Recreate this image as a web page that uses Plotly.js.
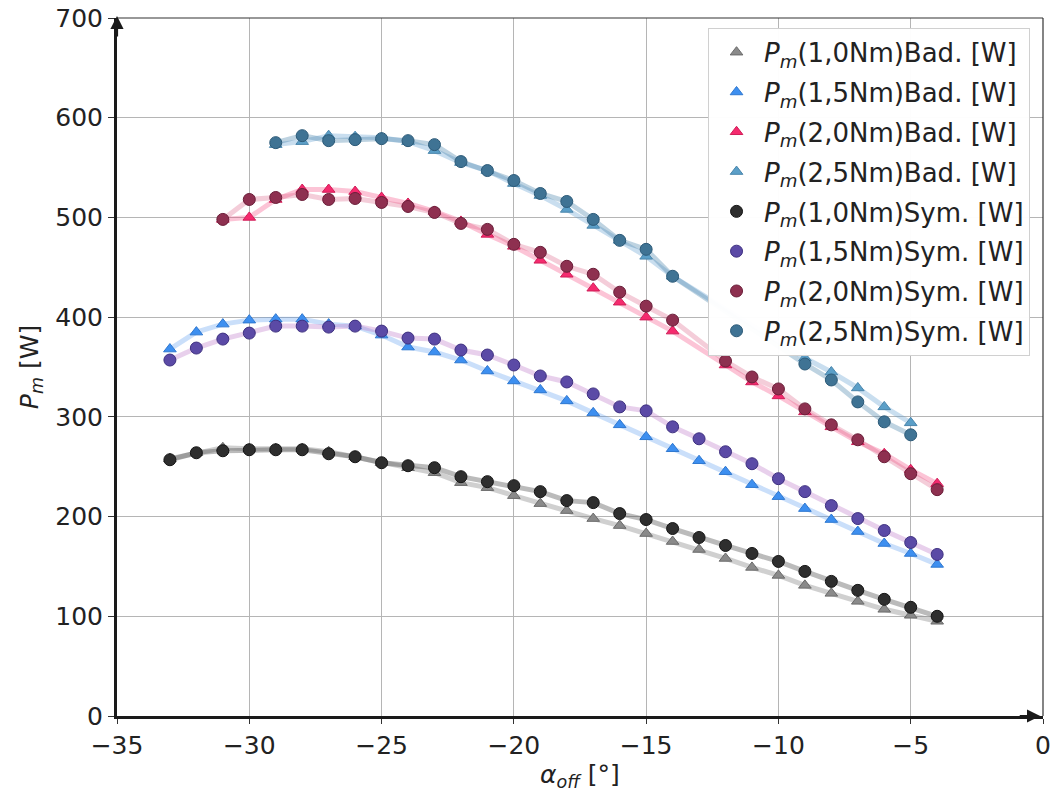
<!DOCTYPE html>
<html>
<head>
<meta charset="utf-8">
<script src="https://cdn.plot.ly/plotly-3.0.1.min.js"></script>
<style>html,body{margin:0;padding:0;background:#fff;}#chart{width:1053px;height:798px;}</style>
</head>
<body>
<div id="chart"></div>
<script>
// alpha_off values [deg]
const alphaOff = [-33,-32,-31,-30,-29,-28,-27,-26,-25,-24,-23,-22,-21,-20,-19,-18,-17,-16,-15,-14,-13,-12,-11,-10,-9,-8,-7,-6,-5,-4];

// P_m [W], "Bad." series (triangles)
const bad10 = [258,264,269,268,268,268,265,260,254,249,244,234,229,221,213,206,198,191,183,175,167,158,149,141,131,123,115,107,101,95];
const bad15 = [368,385,393,397,398,398,393,391,382,370,365,357,346,336,327,316,304,292,280,268,256,245,232,220,208,197,185,173,163,152];
const bad20 = [null,null,498,500,518,528,528,526,520,514,506,496,483,471,457,443,429,415,400,386,null,352,335,321,305,290,275,263,247,233];
const bad25 = [null,null,null,null,573,576,582,581,580,576,567,555,547,534,522,508,492,477,461,441,null,null,null,null,359,345,329,310,294,null];

// P_m [W], "Sym." series (circles)
const sym10 = [257,264,266,267,267,267,263,260,254,251,249,240,235,231,225,216,214,203,197,188,179,171,163,155,145,135,126,117,109,100];
const sym15 = [357,369,378,384,391,391,390,391,386,379,378,367,362,352,341,335,323,310,306,290,278,265,253,238,225,211,198,186,174,162];
const sym20 = [null,null,498,518,520,523,518,519,515,511,505,494,488,473,465,451,443,425,411,397,null,356,340,328,308,292,277,260,243,227];
const sym25 = [null,null,null,null,575,582,577,578,579,577,573,556,547,537,524,516,498,477,468,441,null,null,null,null,353,337,315,295,282,null];

const labels = ["(1,0Nm)Bad. [W]","(1,5Nm)Bad. [W]","(2,0Nm)Bad. [W]","(2,5Nm)Bad. [W]",
                "(1,0Nm)Sym. [W]","(1,5Nm)Sym. [W]","(2,0Nm)Sym. [W]","(2,5Nm)Sym. [W]"];

const series = [bad10,bad15,bad20,bad25,sym10,sym15,sym20,sym25];
const markerColors = ['#8a8a8a','#3d8ff0','#f52a6e','#5b9fc8','#2e2e2e','#5b4aa6','#8e3050','#3f7394'];
const edgeColors   = ['#6a6a6a','#2f78d0','#d01e58','#4a86ac','#151515','#3e3080','#6a1d38','#2c5a78'];
const lineColors   = ['rgba(120,120,120,0.35)','rgba(80,150,240,0.3)','rgba(245,60,120,0.3)','rgba(100,160,210,0.35)',
                      'rgba(60,60,60,0.35)','rgba(190,120,200,0.35)','rgba(220,90,130,0.3)','rgba(70,130,170,0.35)'];
const symbols = ['triangle-up','triangle-up','triangle-up','triangle-up','circle','circle','circle','circle'];

const traces = [];
series.forEach((ys,i)=>{
  traces.push({x: alphaOff, y: ys, type:'scatter', mode:'lines', connectgaps:true,
    line:{color:lineColors[i], width:5}, showlegend:false, hoverinfo:'skip'});
});
series.forEach((ys,i)=>{
  traces.push({x: alphaOff, y: ys, type:'scatter', mode:'markers', legendgroup:'g'+i,
    name: '<i>P</i><sub><i>m</i></sub>' + labels[i],
    marker:{symbol:symbols[i], color:markerColors[i], size: symbols[i]==='circle'?12:11,
            line:{color:edgeColors[i], width:1}}});
});

const font = {family:'DejaVu Sans, sans-serif', size:25, color:'#222'};
const legendFont = {family:'DejaVu Sans, sans-serif', size:26, color:'#222'};

const layout = {
  width:1053, height:798,
  margin:{l:117, r:10, t:18, b:82},
  paper_bgcolor:'#fff', plot_bgcolor:'#fff',
  font: font,
  showlegend:true,
  xaxis:{range:[-35,0], dtick:5, tick0:0, showgrid:true, gridcolor:'#b5b5b5', gridwidth:1.2,
    showline:true, linecolor:'#1a1a1a', linewidth:3, ticks:'outside', ticklen:5, tickcolor:'#333',
    zeroline:false, tickfont:font,
    title:{text:'<i>α</i><sub><i>off</i></sub> [°]', font:font, standoff:6}},
  yaxis:{range:[0,700], dtick:100, tick0:0, showgrid:true, gridcolor:'#b5b5b5', gridwidth:1.2,
    showline:true, linecolor:'#1a1a1a', linewidth:3, ticks:'outside', ticklen:6, tickcolor:'#333',
    zeroline:false, tickfont:font,
    title:{text:'<i>P</i><sub><i>m</i></sub> [W]', font:font, standoff:10}},
  legend:{x:0.986, y:0.986, xanchor:'right', yanchor:'top', bgcolor:'rgba(255,255,255,0.97)',
    bordercolor:'#d0d0d0', borderwidth:1, font:legendFont, tracegroupgap:3, itemwidth:45},
  shapes:[
    {type:'line', xref:'paper', yref:'paper', x0:0, x1:1, y0:1, y1:1, line:{color:'#333', width:1.2}},
    {type:'line', xref:'paper', yref:'paper', x0:1, x1:1, y0:0, y1:1, line:{color:'#333', width:1.2}}
  ],
  annotations:[
    {xref:'paper', yref:'paper', x:0, y:1.003, ax:0, ay:22, text:'', showarrow:true,
     arrowhead:2, arrowsize:1.2, arrowwidth:2.2, arrowcolor:'#1a1a1a'},
    {xref:'paper', yref:'paper', x:0.997, y:0, ax:-22, ay:0, text:'', showarrow:true,
     arrowhead:2, arrowsize:1.2, arrowwidth:2.2, arrowcolor:'#1a1a1a'}
  ]
};

Plotly.newPlot('chart', traces, layout, {displayModeBar:false, staticPlot:true});
</script>
</body>
</html>
